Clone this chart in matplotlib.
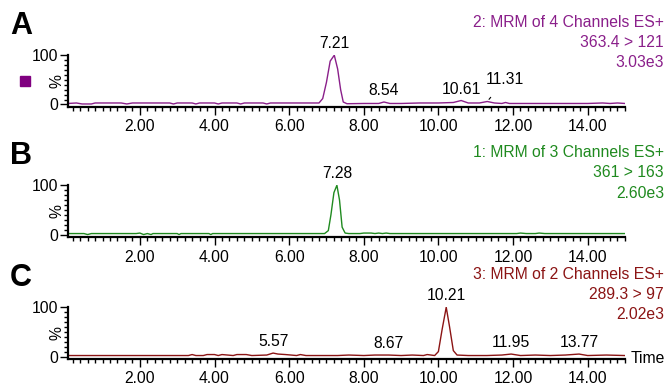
import matplotlib.pyplot as plt
from matplotlib.ticker import MultipleLocator, FixedLocator

plt.rcParams['font.family'] = ['Liberation Sans', 'DejaVu Sans']

# Trace A: 2: MRM of 4 Channels ES+ (363.4 > 121)
tA = [0.07, 0.3, 0.45, 0.7, 0.8, 1.5, 1.65, 1.8, 2.1, 2.8, 2.9, 3.0, 3.4, 3.5, 3.6,
      4.0, 4.1, 4.2, 4.6, 4.7, 4.8, 5.3, 5.4, 5.5, 6.8, 6.9, 7.0, 7.1, 7.21, 7.3, 7.38,
      7.45, 7.55, 8.0, 8.4, 8.54, 8.7, 9.0, 9.5, 10.0, 10.4, 10.61, 10.8, 11.1, 11.31,
      11.5, 11.7, 11.8, 11.9, 12.3, 13.0, 13.6, 14.0, 14.4, 14.6, 14.8, 15.0]
yA = [2, 3, 1, 1, 3, 3, 1, 3, 3, 3, 1, 3, 3, 1, 3,
      3, 1, 3, 3, 1, 3, 3, 1, 3, 3, 12, 45, 88, 100, 72, 30,
      5, 1.5, 2, 2, 5, 2, 2, 3, 3, 4, 8, 3, 3, 6,
      3, 2, 4, 2, 2, 2, 2, 2, 3, 2, 3, 2]

# Trace B: 1: MRM of 3 Channels ES+ (361 > 163)
tB = [0.07, 0.5, 0.6, 0.7, 1.9, 2.0, 2.1, 2.2, 2.3, 2.35, 2.45, 3.0, 3.05, 3.1,
      3.85, 3.9, 3.95, 6.95, 7.05, 7.12, 7.2, 7.28, 7.35, 7.42, 7.5, 7.6, 7.9,
      8.0, 8.2, 8.3, 8.4, 8.5, 8.6, 8.7, 12.1, 12.2, 12.35, 12.6, 12.7, 12.85, 15.0]
yB = [2, 2, 0, 2, 2, 3, 0, 2, 0, 2, 2, 2, 0, 2,
      2, 0, 2, 2, 8, 40, 85, 100, 70, 15, 3, 2, 2,
      3, 3, 2, 3, 2, 3, 2, 2, 3, 2, 2, 3, 2, 2]

# Trace C: 3: MRM of 2 Channels ES+ (289.3 > 97)
tC = [0.07, 3.3, 3.4, 3.5, 3.7, 3.8, 4.0, 4.1, 4.2, 4.5, 4.6, 4.85, 5.0, 5.4, 5.57,
      5.7, 5.9, 6.2, 6.3, 6.45, 6.8, 7.3, 7.6, 8.0, 8.3, 8.67, 9.0, 9.3, 9.6, 9.7,
      9.9, 10.0, 10.1, 10.21, 10.3, 10.4, 10.5, 10.8, 11.3, 11.7, 11.95, 12.2, 12.6,
      13.0, 13.4, 13.77, 14.0, 14.5, 15.0]
yC = [2, 2, 4, 2, 2, 4, 4, 2, 4, 2, 4, 4, 2, 3, 7,
      5, 4, 2, 4, 2, 2, 2, 3, 2, 3, 3, 2, 3, 2, 4,
      2, 10, 55, 100, 60, 12, 3, 2, 2, 3, 5, 2, 3,
      2, 3, 5, 2, 3, 2]

# Peak labels
pkA = [7.21, 8.54, 10.61]
pkB = [7.28]
pkC = [5.57, 8.67, 10.21, 11.95, 13.77]

panels = [
    ("A", tA, yA, pkA, "#8a1f8a", ["2: MRM of 4 Channels ES+", "363.4 > 121", "3.03e3"]),
    ("B", tB, yB, pkB, "#1f8a1f", ["1: MRM of 3 Channels ES+", "361 > 163", "2.60e3"]),
    ("C", tC, yC, pkC, "#8b1414", ["3: MRM of 2 Channels ES+", "289.3 > 97", "2.02e3"]),
]

fs = 11.3
fig = plt.figure(figsize=(6.72, 3.86), dpi=100)
bottoms = [0.723, 0.386, 0.070]
height = 0.134

for (letter, t, y, pks, col, head), b in zip(panels, bottoms):
    ax = fig.add_axes([0.101, b, 0.829, height])
    ax.plot(t, y, color=col, lw=1)
    ax.set_xlim(0.07, 15.0)
    ax.set_ylim(-5, 100)
    for s in ["top", "right"]:
        ax.spines[s].set_visible(False)
    for s in ["left", "bottom"]:
        ax.spines[s].set_linewidth(1.6)
    ax.xaxis.set_major_locator(MultipleLocator(2))
    ax.xaxis.set_minor_locator(MultipleLocator(0.2))
    ax.xaxis.set_major_formatter(lambda v, p: f"{v:.2f}")
    ax.yaxis.set_major_locator(FixedLocator([0, 100]))
    ax.yaxis.set_minor_locator(MultipleLocator(10))
    ax.tick_params(axis="both", which="major", length=6, width=1, labelsize=fs, pad=1)
    ax.tick_params(axis="both", which="minor", length=3, width=1)
    ax.tick_params(axis="x", which="major", pad=3)
    ax.set_ylabel("%", fontsize=fs)
    ax.yaxis.set_label_coords(-0.006, 0.5)

    for p in pks:
        i = t.index(p)
        ax.annotate(f"{p:.2f}", (p, y[i]), xytext=(0, 4), textcoords="offset pixels",
                    ha="center", va="bottom", fontsize=fs, annotation_clip=False)

    top = b + height
    fig.text(0.988, top + 0.085, head[0], color=col, ha="right", va="center", fontsize=fs)
    fig.text(0.988, top + 0.033, head[1], color=col, ha="right", va="center", fontsize=fs)
    fig.text(0.988, top - 0.020, head[2], color=col, ha="right", va="center", fontsize=fs)
    fig.text(0.015, top + 0.075, letter, fontsize=22, fontweight="bold", ha="left", va="center")

# 11.31 label with leader line on trace A
axA = fig.axes[0]
i = tA.index(11.31)
axA.annotate("11.31", (11.31, yA[i]), xytext=(18, 22), textcoords="offset pixels",
             ha="center", va="center", fontsize=fs, annotation_clip=False,
             arrowprops=dict(arrowstyle="-", color="black", lw=0.8, shrinkA=7, shrinkB=2))

# purple square marker beside trace A
fig.patches.append(plt.Rectangle((0.03, 0.777), 0.015, 0.026, color="#800080",
                                 transform=fig.transFigure, figure=fig))

fig.axes[2].text(1.01, 0.0, "Time", transform=fig.axes[2].transAxes,
                 ha="left", va="center", fontsize=fs)

fig.savefig("out.png", dpi=100)
